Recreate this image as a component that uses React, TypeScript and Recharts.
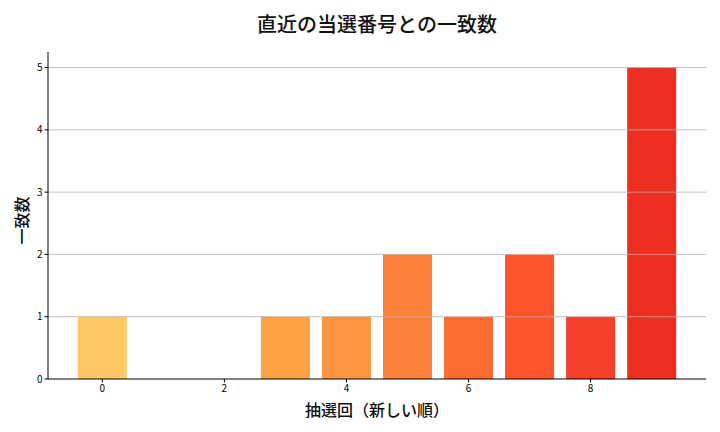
import React from "react";
import { BarChart, Bar, XAxis, YAxis, Cell, ReferenceLine } from "recharts";

const draws = [0, 1, 2, 3, 4, 5, 6, 7, 8, 9];
const matches = [1, 0, 0, 1, 1, 2, 1, 2, 1, 5];
const barColors = [
  "#fec965", "#febb56", "#feae4a", "#fda145", "#fd943f",
  "#fd8239", "#fc6b32", "#fc552c", "#f63f28", "#ed2f22",
];
const xTicks = [0, 2, 4, 6, 8];
const yTicks = [0, 1, 2, 3, 4, 5];
const title = "直近の当選番号との一致数";
const xLabel = "抽選回（新しい順）";
const yLabel = "一致数";

const data = draws.map((d, i) => ({ draw: d, value: matches[i] }));
const FONT = "'Noto Sans CJK JP', 'DejaVu Sans', sans-serif";

const YLabel = (props: any) => {
  const vb = props.viewBox || {};
  const cx = 21;
  const cy = (vb.y ?? 52) + (vb.height ?? 327) / 2 + 5;
  return (
    <text
      x={cx}
      y={cy}
      transform={`rotate(-90 ${cx} ${cy})`}
      textAnchor="middle"
      dominantBaseline="central"
      fontSize={16}
      fontWeight={500}
      fill="#111"
      fontFamily={FONT}
    >
      {yLabel}
    </text>
  );
};

export default function App() {
  return (
    <div style={{ position: "absolute", left: 0, top: 0, width: 720, height: 432, background: "#fff", fontFamily: FONT }}>
      <div
        style={{
          position: "absolute",
          left: 48,
          width: 658,
          top: 10,
          textAlign: "center",
          fontSize: 20,
          fontWeight: 500,
          color: "#111",
          lineHeight: "28px",
        }}
      >
        {title}
      </div>
      <BarChart
        width={720}
        height={432}
        data={data}
        margin={{ top: 52, right: 14, bottom: 0, left: 0 }}
      >
        <XAxis
          dataKey="draw"
          type="number"
          domain={[-0.89, 9.89]}
          ticks={xTicks}
          allowDataOverflow
          height={53}
          stroke="#000"
          tickSize={3.5}
          tick={{ fontSize: 10, fill: "#000", fontFamily: FONT }}
          tickLine={{ stroke: "#000" }}
          label={{ value: xLabel, position: "insideBottom", offset: 16, fontSize: 16, fill: "#111", fontWeight: 500, fontFamily: FONT }}
        />
        <XAxis xAxisId="top" orientation="top" dataKey="draw" type="number" domain={[-0.89, 9.89]} height={0} tick={false} tickLine={false} stroke="#000" />
        <YAxis
          type="number"
          domain={[0, 5.25]}
          ticks={yTicks}
          allowDataOverflow
          width={48}
          stroke="#000"
          tickSize={3.5}
          tick={{ fontSize: 10, fill: "#000", fontFamily: FONT }}
          tickLine={{ stroke: "#000" }}
          label={<YLabel />}
        />
        <YAxis yAxisId="right" orientation="right" type="number" domain={[0, 5.25]} width={0} tick={false} tickLine={false} stroke="#000" />
        <Bar dataKey="value" barSize={49} isAnimationActive={false}>
          {data.map((d, i) => (
            <Cell key={i} fill={barColors[i]} />
          ))}
        </Bar>
        {yTicks.slice(1).map((t) => (
          <ReferenceLine key={t} y={t} stroke="#b0b0b0" strokeWidth={0.8} />
        ))}
      </BarChart>
    </div>
  );
}
